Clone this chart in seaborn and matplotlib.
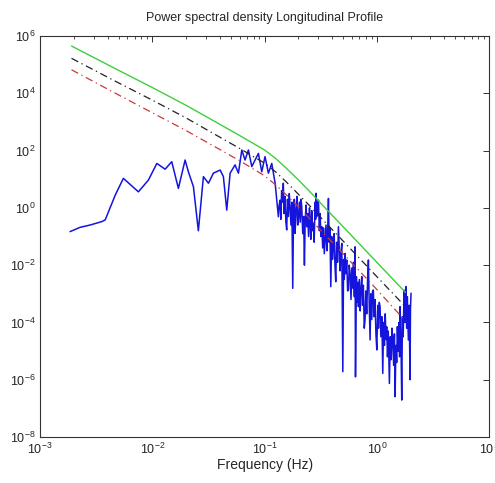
import matplotlib
matplotlib.use("Agg")
import matplotlib.pyplot as plt
import matplotlib.ticker as mticker
import numpy as np
import pandas as pd
import seaborn as sns

# reference curves (log10 of frequency in Hz, log10 of PSD)
ref_freq_exp = [-2.72, -2.30, -2.00, -1.70, -1.40, -1.22, -1.00, -0.90, -0.80, -0.70, -0.60, -0.456, -0.30, 0.00, 0.255]
green_exp = [5.65, 4.80, 4.20, 3.58, 2.92, 2.52, 2.02, 1.72, 1.36, 0.98, 0.58, -0.02, -0.66, -1.90, -2.95]
black_exp = [5.22, 4.36, 3.76, 3.14, 2.47, 2.07, 1.56, 1.25, 0.88, 0.48, 0.08, -0.52, -1.16, -2.40, -3.45]
red_exp = [4.82, 3.94, 3.32, 2.70, 2.04, 1.64, 1.12, 0.80, 0.43, 0.04, -0.37, -0.96, -1.60, -2.85, -3.95]

# measured spectrum (blue), log10 values
psd_freq_exp = [
    -2.733, -2.644, -2.555, -2.450, -2.420, -2.330, -2.258, -2.124, -2.035, -1.960,
    -1.886, -1.827, -1.768, -1.708, -1.679, -1.634, -1.590, -1.545, -1.500, -1.456,
    -1.396, -1.367, -1.337, -1.307, -1.263, -1.233, -1.203, -1.174, -1.144, -1.114,
    -1.085, -1.055, -1.025, -0.996, -0.966, -0.936, -0.906, -0.877,
    -0.870, -0.862, -0.855, -0.848, -0.840, -0.833, -0.826, -0.818, -0.810, -0.803,
    -0.796, -0.788, -0.780, -0.773, -0.765, -0.757, -0.749, -0.742, -0.735, -0.728,
    -0.720, -0.712, -0.705, -0.699, -0.690, -0.682, -0.675, -0.669, -0.660, -0.652,
    -0.645, -0.638, -0.630, -0.624, -0.616, -0.608, -0.600, -0.595, -0.588, -0.580,
    -0.572, -0.565, -0.558, -0.550, -0.545, -0.541, -0.535, -0.528, -0.520, -0.512,
    -0.505, -0.498, -0.490, -0.482, -0.475, -0.468, -0.461, -0.453, -0.445, -0.438,
    -0.431, -0.425, -0.418, -0.410, -0.402, -0.395, -0.387, -0.380, -0.373, -0.366,
    -0.358, -0.350, -0.342, -0.335, -0.327, -0.320, -0.312, -0.303, -0.296, -0.290,
    -0.283, -0.276, -0.268, -0.260, -0.253, -0.246, -0.238, -0.230, -0.222, -0.215,
    -0.208, -0.200, -0.194, -0.190, -0.182, -0.175, -0.168, -0.164, -0.156, -0.148,
    -0.141, -0.134, -0.127, -0.120, -0.112, -0.105, -0.098, -0.090, -0.082, -0.075,
    -0.068, -0.060, -0.053, -0.045, -0.038, -0.031, -0.024, -0.016, -0.008, 0.000,
    0.008, 0.015, 0.022, 0.029, 0.036, 0.045, 0.053, 0.060, 0.068, 0.075,
    0.082, 0.088, 0.095, 0.102, 0.112, 0.120, 0.128, 0.135, 0.142, 0.150,
    0.157, 0.163, 0.170, 0.177, 0.183, 0.190, 0.197, 0.203, 0.207, 0.215,
    0.222, 0.228, 0.235, 0.243, 0.250, 0.255, 0.260, 0.266, 0.272, 0.281,
    0.288, 0.296, 0.300, 0.305,
]
psd_exp = [
    -0.83, -0.68, -0.60, -0.48, -0.42, 0.45, 1.03, 0.56, 0.97, 1.55,
    1.35, 1.61, 0.68, 1.67, 1.26, 0.74, -0.80, 1.09, 0.86, 1.21,
    1.32, 1.09, -0.08, 1.21, 1.50, 1.21, 2.02, 1.67, 2.02, 1.44,
    1.67, 1.90, 1.26, 1.79, 1.21, 1.55, 0.86, -0.31,
    0.10, 0.27, -0.40, 0.60, 0.20, 0.86, -0.20, 0.40, -0.50, -0.77,
    0.30, -0.30, 0.50, 0.04, -0.60, 0.20, -2.81, -0.20, 0.30, -0.89,
    -0.10, 0.40, -0.60, -0.42, 0.20, -0.50, 0.30, 0.04, -0.90, -0.30,
    -2.00, -0.40, 0.10, -0.66, -0.20, -1.00, 0.00, -0.37, -1.10, -0.10,
    -0.80, -0.54, -1.20, 0.20, -0.40, 0.51, -0.30, 0.10, 0.27, -0.80,
    -0.20, -1.00, -0.66, -1.40, -0.70, -1.60, -1.12, -0.60, -1.50, -0.80,
    0.33, -1.20, -0.70, -2.75, -1.00, -1.80, -1.36, -0.90, -2.00, -2.58,
    -1.20, -1.90, -0.66, -1.40, -2.20, -1.59, -1.24, -5.72, -1.80, -2.50,
    -1.59, -2.30, -1.82, -2.90, -2.87, -2.00, -2.29, -3.20, -2.10, -2.80,
    -1.90, -3.10, -1.36, -5.90, -2.40, -3.30, -2.60, -3.45, -2.50, -3.60,
    -2.80, -2.40, -3.40, -2.70, -4.20, -3.92, -2.90, -3.70, -2.50, -1.82,
    -3.30, -4.61, -3.00, -3.90, -2.90, -2.87, -3.80, -3.20, -4.40, -4.96,
    -3.40, -4.20, -3.30, -3.45, -4.50, -3.80, -5.78, -4.00, -4.80, -3.70,
    -4.60, -4.15, -5.20, -4.30, -6.13, -4.50, -5.30, -4.20, -4.61, -5.50,
    -4.40, -6.59, -4.80, -5.40, -4.15, -5.00, -4.00, -5.20, -3.45, -4.60,
    -6.71, -3.80, -4.50, -2.87, -4.00, -3.20, -2.75, -4.20, -3.10, -4.61,
    -3.40, -6.00, -3.50, -2.98,
]

ref = pd.DataFrame({"freq": 10.0 ** np.array(ref_freq_exp),
                    "green": 10.0 ** np.array(green_exp),
                    "black": 10.0 ** np.array(black_exp),
                    "red": 10.0 ** np.array(red_exp)})
psd = pd.DataFrame({"freq": 10.0 ** np.array(psd_freq_exp),
                    "psd": 10.0 ** np.array(psd_exp)})

sns.set_style("white")
plt.rcParams['font.family'] = ['Liberation Sans', 'DejaVu Sans']

fig = plt.figure(figsize=(4.95, 4.83), dpi=100)
ax = fig.add_axes([0.081, 0.0952, 0.907, 0.8303])

sns.lineplot(data=psd, x="freq", y="psd", ax=ax, color="#1414dc", linewidth=1.1,
             estimator=None, sort=False)
sns.lineplot(data=ref, x="freq", y="green", ax=ax, color="#3ccf3c", linewidth=1.0,
             estimator=None, sort=False)
sns.lineplot(data=ref, x="freq", y="black", ax=ax, color="#222222", linewidth=0.9,
             estimator=None, sort=False, linestyle=(0, (6, 3, 1, 3)))
sns.lineplot(data=ref, x="freq", y="red", ax=ax, color="#c83a3a", linewidth=0.9,
             estimator=None, sort=False, linestyle=(0, (6, 3, 1, 3)))

ax.set_xscale("log")
ax.set_yscale("log")
ax.set_xlim(1e-3, 1e1)
ax.set_ylim(1e-8, 1e6)
ax.yaxis.set_major_locator(mticker.FixedLocator([10.0 ** k for k in range(-8, 7, 2)]))
ax.yaxis.set_minor_locator(mticker.NullLocator())
ax.xaxis.set_major_locator(mticker.LogLocator(base=10, numticks=10))
ax.xaxis.set_minor_locator(mticker.LogLocator(base=10, subs=np.arange(2, 10), numticks=20))

ax.tick_params(which="both", direction="in", top=True, right=True, labelsize=9,
               color="#333333")
ax.tick_params(which="major", length=4, width=0.7)
ax.tick_params(which="minor", length=2.5, width=0.6)
for s in ax.spines.values():
    s.set_color("#333333")
    s.set_linewidth(0.8)

ax.set_xlabel("Frequency (Hz)", fontsize=10, labelpad=1)
ax.set_ylabel("")
ax.set_title("Power spectral density Longitudinal Profile", fontsize=9, pad=11)

fig.savefig("out.png", dpi=100)
